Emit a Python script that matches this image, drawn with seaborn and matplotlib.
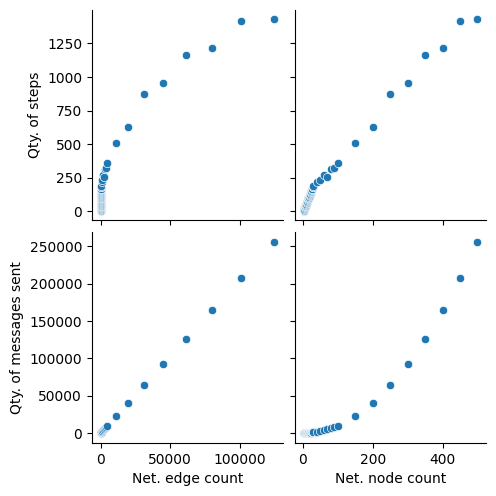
import pandas as pd
import numpy as np
import matplotlib
matplotlib.use("Agg")
import matplotlib.pyplot as plt
import seaborn as sns

# network sizes (nodes) and complete-graph edge counts
nodes = [2, 3, 4, 5, 6, 7, 8, 9, 10, 11, 12, 13, 14, 15, 16, 17, 18, 19, 20,
         21, 22, 23, 24, 25, 26, 27, 28, 29,
         30, 40, 50, 60, 70, 80, 90, 100,
         150, 200, 250, 300, 350, 400, 450, 500]
edges = [1, 3, 6, 10, 15, 21, 28, 36, 45, 55, 66, 78, 91, 105, 120, 136, 153, 171, 190,
         210, 231, 253, 276, 300, 325, 351, 378, 406,
         435, 780, 1225, 1770, 2415, 3160, 4005, 4950,
         11175, 19900, 31125, 44850, 61075, 79800, 101025, 124750]
steps = [4, 10, 17, 22, 30, 37, 42, 50, 57, 63, 70, 75, 84, 90, 96, 103, 110, 115, 122,
         130, 136, 142, 150, 156, 163, 170, 178, 185,
         190, 215, 232, 274, 259, 314, 323, 363,
         510, 630, 876, 958, 1167, 1219, 1413, 1428]
messages = [28, 45, 64, 85, 108, 133, 160, 189, 220, 253, 288, 325, 364, 405, 448, 493, 540, 589, 640,
            693, 748, 805, 864, 925, 988, 1053, 1120, 1189,
            1250, 2100, 3100, 4300, 5700, 7300, 8900, 10200,
            23000, 40100, 64500, 92800, 126600, 164400, 207700, 256300]

df = pd.DataFrame({
    "Net. edge count": edges,
    "Net. node count": nodes,
    "Qty. of steps": steps,
    "Qty. of messages sent": messages,
})

g = sns.pairplot(
    df,
    x_vars=["Net. edge count", "Net. node count"],
    y_vars=["Qty. of steps", "Qty. of messages sent"],
)

g.savefig("out.png", dpi=100, bbox_inches="tight")
